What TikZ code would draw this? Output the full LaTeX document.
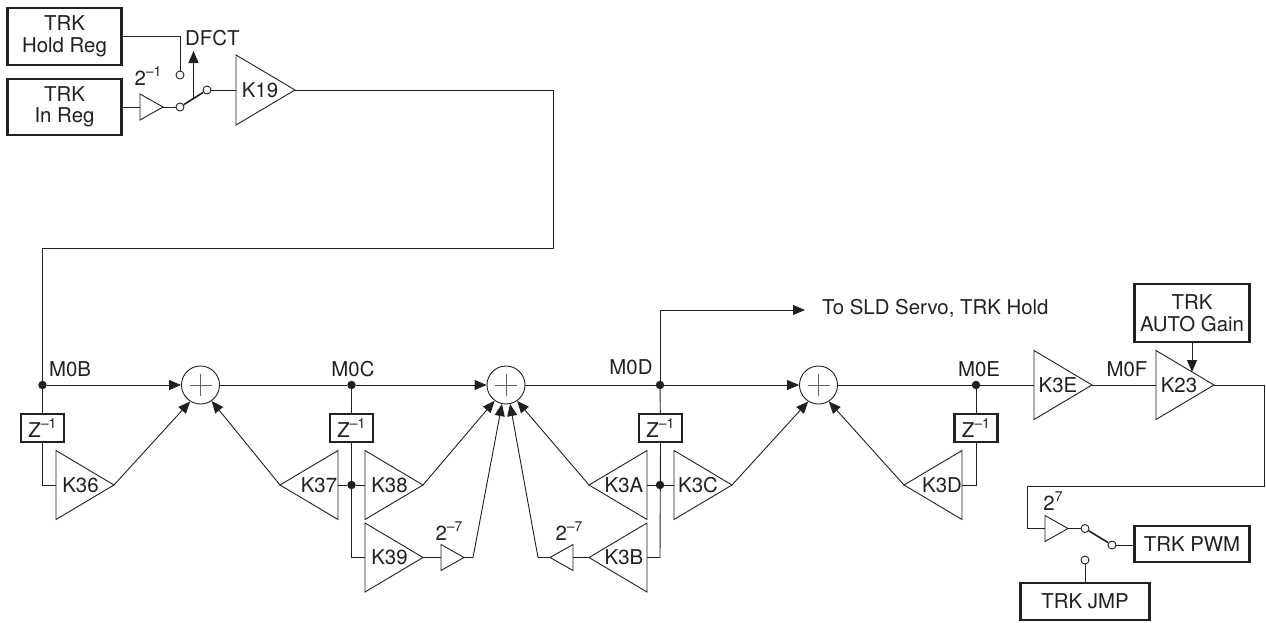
\documentclass[tikz,border=0pt]{standalone}
\usepackage{fontspec}
\setmainfont{TeX Gyre Heros}
\usetikzlibrary{arrows.meta,shapes.geometric}
\definecolor{ink}{HTML}{231F20}
\newcommand{\supr}[1]{\raisebox{.42em}{\fontsize{14}{14}\selectfont #1}}
\tikzset{
 every node/.style={text=ink,font=\fontsize{20.4}{21.5}\selectfont},
 wire/.style={draw=ink,line width=.9pt},
 arr/.style={wire,-{Triangle[length=12pt,width=10pt]}},
 regbox/.style={draw=ink,line width=2.2pt,align=center,inner sep=0pt,fill=white},
 zbox/.style={regbox,minimum width=43pt,minimum height=28pt},
 amp/.style={draw=ink,line width=.9pt,isosceles triangle,isosceles triangle stretches,inner sep=0pt,outer sep=0pt,fill=white,minimum width=69pt,minimum height=58pt},
 buf/.style={amp,minimum width=26pt,minimum height=23pt},
 leftamp/.style={shape border rotate=180},
 dotn/.style={circle,fill=ink,inner sep=0pt,minimum size=8.5pt},
 contact/.style={circle,draw=ink,line width=.9pt,fill=white,inner sep=0pt,minimum size=8pt},
 summer/.style={circle,draw=ink,line width=.9pt,inner sep=0pt,minimum size=38pt},
 lab/.style={inner sep=0pt},
}
\begin{document}
\begin{tikzpicture}[x=1pt,y=-1pt]
\path[use as bounding box] (0,0) rectangle (1266,622);
% boxes
\node[regbox,minimum width=114pt,minimum height=57pt] (hold) at (64.5,36.5) {TRK\\Hold Reg};
\node[regbox,minimum width=114pt,minimum height=56pt] (inreg) at (64.5,107) {TRK\\In Reg};
\node[regbox,minimum width=115pt,minimum height=58pt] (auto) at (1192,313) {TRK\\AUTO Gain};
\node[regbox,minimum width=115pt,minimum height=36pt] (pwm) at (1192,544) {TRK PWM};
\node[regbox,minimum width=129pt,minimum height=37pt] (jmp) at (1085,601.5) {TRK JMP};
% gains
\node[buf,anchor=apex] (b1) at (163,107) {};
\node[amp,minimum width=70pt,minimum height=59pt,anchor=apex] (K19) at (295,90) {};
\node[amp,anchor=apex] (K36) at (114,485) {};
\node[amp,leftamp,anchor=apex] (K37) at (280,485) {};
\node[amp,anchor=apex] (K38) at (423,485) {};
\node[amp,anchor=apex] (K39) at (423,557.5) {};
\node[buf,anchor=apex] (b2) at (464,557.5) {};
\node[buf,leftamp,anchor=apex] (b3) at (550,557.5) {};
\node[amp,leftamp,anchor=apex] (K3B) at (589,557.5) {};
\node[amp,leftamp,anchor=apex] (K3A) at (589,485) {};
\node[amp,anchor=apex] (K3C) at (732,485) {};
\node[amp,leftamp,anchor=apex] (K3D) at (904,485) {};
\node[amp,anchor=apex] (K3E) at (1092,385) {};
\node[amp,anchor=apex] (K23) at (1214,385) {};
\node[buf,anchor=apex] (b4) at (1068,528.5) {};
% gain labels
\node[lab] (tK19) at (260,90.5) {K19};
\node[lab] (tK36) at (80.5,485) {K36};
\node[lab] (tK37) at (319,485) {K37};
\node[lab] (tK38) at (389.5,485) {K38};
\node[lab] (tK39) at (389.5,557) {K39};
\node[lab] (tK3A) at (624,485) {K3A};
\node[lab] (tK3B) at (624,557) {K3B};
\node[lab] (tK3C) at (698,485) {K3C};
\node[lab] (tK3D) at (942,485) {K3D};
\node[lab] (tK3E) at (1058,385) {K3E};
\node[lab] (tK23) at (1179,385) {K23};
% z boxes
\node[zbox] (z1) at (42.5,428) {Z\supr{–1}};
\node[zbox] (z2) at (351.5,428) {Z\supr{–1}};
\node[zbox] (z3) at (660.5,428) {Z\supr{–1}};
\node[zbox] (z4) at (976,428) {Z\supr{–1}};
% summers
\node[summer] (s1) at (200.5,385) {};
\node[summer] (s2) at (506,385) {};
\node[summer] (s3) at (818.5,385) {};
\foreach \s in {s1,s2,s3}{
 \draw[draw=ink!70,line width=.7pt] (\s.center) ++(-11,0) -- ++(22,0) (\s.center) ++(0,-11) -- ++(0,22);
}
% junctions
\node[dotn] (d1) at (42.5,385) {};
\node[dotn] (d2) at (351.5,385) {};
\node[dotn] (d3) at (660,385) {};
\node[dotn] (d4) at (976,385) {};
\node[dotn] (d5) at (351.5,485) {};
\node[dotn] (d6) at (660,485) {};
% free points
\coordinate (turn1) at (553,90);
\coordinate (turn2) at (553,248);
\coordinate (turn3) at (42.5,248);
\coordinate (tap) at (660,310);
\coordinate (tapend) at (805,310);
\coordinate (arm) at (193.5,98.5);
\coordinate (dfctend) at (193.5,51);
\coordinate (back1) at (1264,385);
\coordinate (back2) at (1264,486);
\coordinate (back3) at (1027,486);
\coordinate (back4) at (1027,528.5);
\coordinate (k23top) at (1192,372);
\coordinate (k39out) at (473,557.5);
\coordinate (k3bout) at (538,557.5);
% contacts
\node[contact] (c1) at (180,75) {};
\node[contact] (c2) at (180,107) {};
\node[contact] (c3) at (207,90) {};
\node[contact] (c4) at (1085,528.5) {};
\node[contact] (c5) at (1112,545) {};
\node[contact] (c6) at (1085,560) {};
% wires
\draw[wire] (hold.east |- 0,36) -- (180,36) -- (c1.north);
\draw[wire] (inreg.east) -- (b1.west |- inreg.east);
\draw[wire] (b1.apex) -- (c2);
\draw[wire,line width=1.6pt] (c2) -- (c3);
\draw[arr] (arm) -- (dfctend);
\draw[wire] (c3) -- (K19.west |- c3);
\draw[wire] (K19.apex) -- (turn1) -- (turn2) -- (turn3) -- (d1);
\draw[arr] (d1) -- (s1.west);
\draw[wire] (s1.east) -- (d2);
\draw[arr] (d2) -- (s2.west);
\draw[wire] (s2.east) -- (d3);
\draw[arr] (d3) -- (s3.west);
\draw[wire] (s3.east) -- (d4) -- (K3E.west |- d4);
\draw[wire] (K3E.apex) -- (K23.west |- K3E.apex);
\draw[wire] (d1) -- (z1);
\draw[wire] (d2) -- (z2);
\draw[wire] (d3) -- (z3);
\draw[wire] (d4) -- (z4);
\draw[wire] (d3) -- (tap);
\draw[arr] (tap) -- (tapend);
\draw[wire] (z1.south) -- (42.5,485) -- (K36.west |- 0,485);
\draw[wire] (z2.south) -- (351.5,557.5) -- (K39.west |- 0,557.5);
\draw[wire] (z3.south) -- (660,557.5) -- (K3B.east |- 0,557.5);
\draw[wire] (z4.south) -- (976,485) -- (K3D.east |- 0,485);
\draw[wire] (K37.east |- d5) -- (d5) -- (K38.west |- d5);
\draw[wire] (K3A.east |- d6) -- (d6) -- (K3C.west |- d6);
\draw[arr] (K36.apex) -- (s1.-122);
\draw[arr] (K37.apex) -- (s1.-55);
\draw[arr] (K38.apex) -- (s2.-126);
\draw[wire] (K39.apex) -- (b2.west |- K39.apex);
\draw[wire] (b2.apex) -- (k39out);
\draw[arr] (k39out) -- (s2.-102);
\draw[wire] (K3B.apex) -- (b3.east |- K3B.apex);
\draw[wire] (b3.apex) -- (k3bout);
\draw[arr] (k3bout) -- (s2.-78);
\draw[arr] (K3A.apex) -- (s2.-55);
\draw[arr] (K3C.apex) -- (s3.-122);
\draw[arr] (K3D.apex) -- (s3.-58);
\draw[arr] (auto.south -| k23top) -- (k23top);
\draw[wire] (K23.apex) -- (back1) -- (back2) -- (back3) -- (back4) -- (b4.west |- back4);
\draw[wire] (b4.apex) -- (c4);
\draw[wire,line width=1.6pt] (c4) -- (c5);
\draw[wire] (c5) -- (pwm.west |- c5);
\draw[wire] (c6) -- (c6 |- jmp.north);
% text labels
\node[lab,anchor=west] (tdfct) at (185,38) {DFCT};
\node[lab] (t21) at (148,76) {2\supr{–1}};
\node[lab] (t27a) at (449,531) {2\supr{–7}};
\node[lab] (t27b) at (569,531) {2\supr{–7}};
\node[lab] (t27) at (1053,501) {2\supr{7}};
\node[lab] (tb) at (70,369) {M0B};
\node[lab] (tc) at (353,369) {M0C};
\node[lab] (td) at (631,367) {M0D};
\node[lab] (te) at (979,369) {M0E};
\node[lab] (tf) at (1127,369) {M0F};
\node[lab,anchor=west] (tsld) at (822,308) {To SLD Servo, TRK Hold};
\end{tikzpicture}
\end{document}
